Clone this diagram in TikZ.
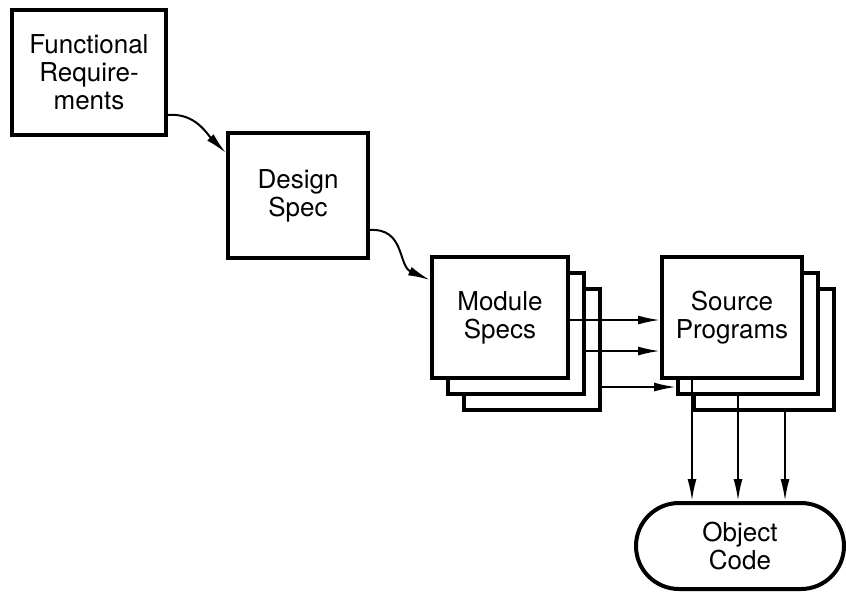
\documentclass[tikz,border=0pt]{standalone}
\usepackage{fontspec}
\setmainfont{TeX Gyre Heros}
\usetikzlibrary{arrows.meta,positioning,calc}

\begin{document}
\begin{tikzpicture}[x=0.5pt, y=0.5pt,
    box/.style={rectangle, draw, line width=2pt, fill=white, align=center, font=\fontsize{13}{14}\selectfont, minimum height=62.5pt},
    stackbox/.style={box, minimum width=#1, minimum height=60.5pt},
    arrow/.style={-{Latex[length=11pt,width=4.5pt]}, line width=1pt},
]
    \useasboundingbox (0,0) rectangle (846,-591);

    % Requirements and design
    \node[box, minimum width=77pt] (freq) at (89,-72.5) {Functional\\Require-\\ments};
    \node[box, minimum width=70pt] (dspec) at (298,-195.5) {Design\\Spec};

    % Module specs and source programs, three sheets each
    \foreach \i/\d in {3/32,2/16} {
        \node[stackbox=68pt] (mspec\i) at (500+\d,-317.5-\d) {};
        \node[stackbox=70pt] (spro\i) at (732+\d,-317.5-\d) {};
    }
    \node[stackbox=68pt] (mspec1) at (500,-317.5) {Module\\Specs};
    \node[stackbox=70pt] (spro1) at (732,-317.5) {Source\\Programs};

    % Object code
    \node[box, rounded corners=21.5pt, minimum width=104pt, minimum height=43pt] (ocode) at (740,-546) {Object\\Code};

    \draw[arrow] ([yshift=11pt]freq.south east) to[out=5, in=135] ([yshift=-11pt]dspec.north west);
    \draw[arrow] ([yshift=15pt]dspec.south east) .. controls +(35,2) and +(-32,14) .. ([yshift=-12.5pt]mspec1.north west);

    \draw[arrow] ([yshift=-1.25pt]mspec1.east) -- ([yshift=-1.25pt]mspec1.east -| spro1.west);
    \draw[arrow] ([yshift=-8.75pt]mspec2.east) -- ([yshift=-8.75pt]mspec2.east -| spro1.west);
    \draw[arrow] ([yshift=-18.75pt]mspec3.east) -- ([yshift=-18.75pt]mspec3.east -| spro2.west);

    \foreach \i/\dx in {1/16pt,2/31pt,3/46.5pt} {
        \draw[arrow] ([xshift=\dx]spro\i.south west) -- ([xshift=\dx]spro\i.south west |- ocode.north);
    }
\end{tikzpicture}
\end{document}
